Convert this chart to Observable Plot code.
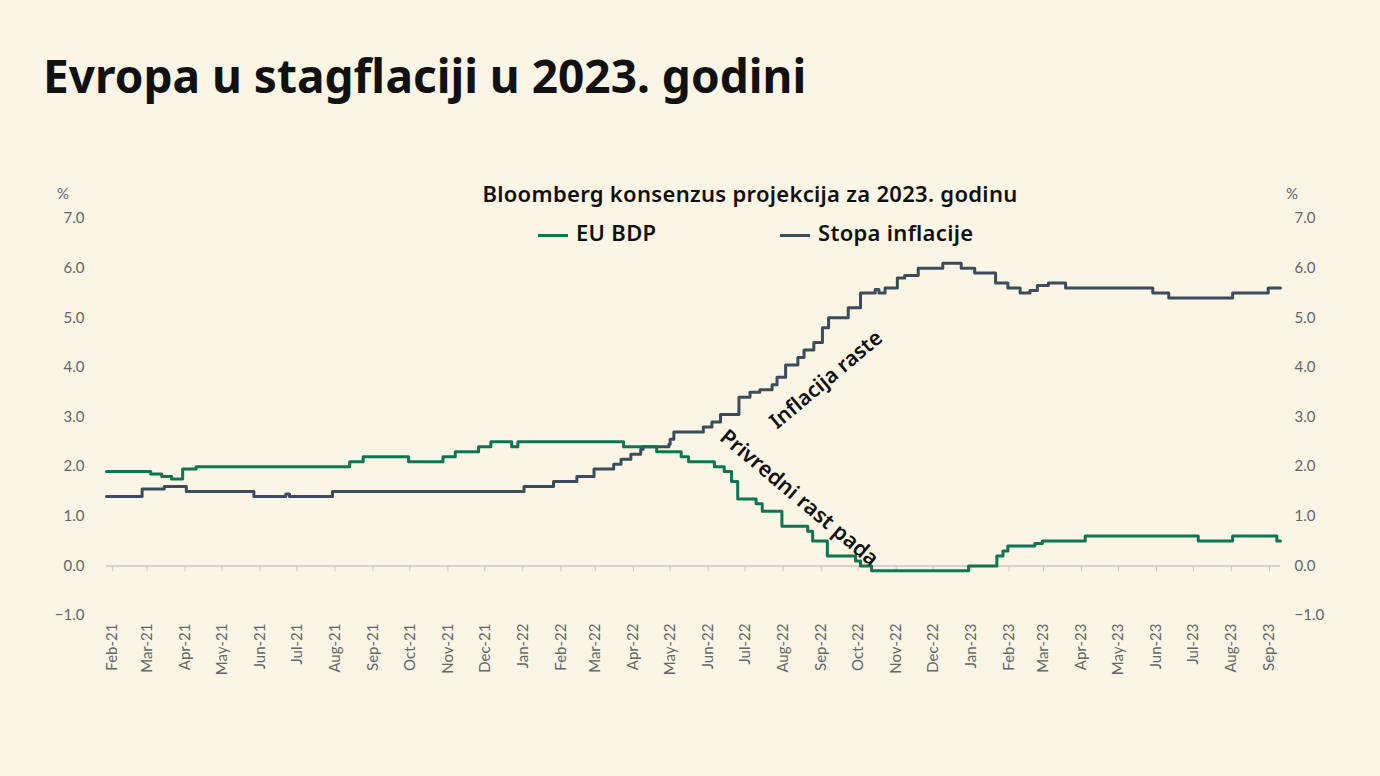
<!DOCTYPE html>
<html>
<head>
<meta charset="utf-8">
<script src="https://cdn.jsdelivr.net/npm/d3@7"></script>
<script src="https://cdn.jsdelivr.net/npm/@observablehq/plot@0.6"></script>
<style>
  body { margin: 0; background: #faf5e4; font-family: "Noto Sans", Lato, sans-serif; }
  #wrap { position: relative; width: 1380px; height: 776px; }
  .t { position: absolute; color: #111; white-space: nowrap; }
  #title { left: 43px; top: 44px; font-size: 46px; font-weight: 700; }
  #sub { left: 750px; top: 178px; transform: translateX(-50%); font-size: 22px; font-weight: 600; letter-spacing: 0.3px; }
  .leg { top: 217px; font-size: 22px; font-weight: 600; letter-spacing: 0.3px; }
  .sw { display: inline-block; width: 30px; height: 3px; vertical-align: middle; margin-right: 8px; }
  .pct { top: 184px; font-size: 15px; color: #666; font-family: Lato, sans-serif; }
  #chart { position: absolute; left: 0; top: 0; }
</style>
</head>
<body>
<div id="wrap">
  <div id="chart"></div>
  <div class="t" id="title">Evropa u stagflaciji u 2023. godini</div>
  <div class="t" id="sub">Bloomberg konsenzus projekcija za 2023. godinu</div>
  <div class="t leg" style="left:538px"><span class="sw" style="background:#0e7553"></span>EU BDP</div>
  <div class="t leg" style="left:780px"><span class="sw" style="background:#3b4d5c"></span>Stopa inflacije</div>
  <div class="t pct" style="left:57px">%</div>
  <div class="t pct" style="left:1286px">%</div>
</div>
<script>
// EU BDP projection steps (date, value)
const gdpDates = ["2021-01-27","2021-03-04","2021-03-13","2021-03-21","2021-03-30","2021-04-10","2021-08-13","2021-08-24","2021-09-30","2021-10-28","2021-11-07","2021-11-26","2021-12-06","2021-12-23","2021-12-28","2022-03-24","2022-04-20","2022-05-10","2022-05-16","2022-06-06","2022-06-14","2022-06-20","2022-06-25","2022-07-10","2022-07-15","2022-07-31","2022-08-21","2022-08-25","2022-09-06","2022-09-29","2022-10-03","2022-10-12","2022-12-30","2023-01-22","2023-01-27","2023-01-31","2023-02-22","2023-02-28","2023-04-04","2023-07-05","2023-08-02","2023-09-07","2023-09-10"];
const gdpValues = [1.9,1.85,1.8,1.75,1.95,2.0,2.1,2.2,2.1,2.2,2.3,2.4,2.5,2.4,2.5,2.4,2.3,2.2,2.1,2.0,1.9,1.7,1.35,1.25,1.1,0.8,0.7,0.5,0.2,0.1,0.0,-0.1,0.0,0.2,0.3,0.4,0.45,0.5,0.6,0.5,0.6,0.5,0.5];

// Inflation projection steps (date, value)
const infDates = ["2021-01-27","2021-02-25","2021-03-15","2021-04-02","2021-05-27","2021-06-22","2021-06-25","2021-07-30","2022-01-02","2022-01-26","2022-02-14","2022-02-28","2022-03-16","2022-03-22","2022-03-30","2022-04-07","2022-04-09","2022-04-30","2022-05-01","2022-05-04","2022-05-28","2022-06-04","2022-06-11","2022-06-26","2022-07-05","2022-07-13","2022-07-23","2022-07-27","2022-08-03","2022-08-13","2022-08-18","2022-08-26","2022-09-02","2022-09-07","2022-09-23","2022-10-03","2022-10-15","2022-10-18","2022-10-23","2022-11-02","2022-11-08","2022-11-19","2022-12-09","2022-12-24","2023-01-04","2023-01-21","2023-01-31","2023-02-10","2023-02-18","2023-02-24","2023-03-05","2023-03-19","2023-05-29","2023-06-11","2023-08-02","2023-08-31","2023-09-10"];
const infValues = [1.4,1.55,1.6,1.5,1.4,1.45,1.4,1.5,1.6,1.7,1.8,1.95,2.05,2.15,2.25,2.35,2.4,2.45,2.55,2.7,2.8,2.9,3.05,3.4,3.5,3.55,3.65,3.8,4.05,4.2,4.35,4.5,4.8,5.0,5.2,5.5,5.57,5.5,5.6,5.8,5.85,6.0,6.1,6.0,5.9,5.7,5.6,5.5,5.55,5.65,5.7,5.6,5.5,5.4,5.5,5.6,5.6];

const yTicks = [-1,0,1,2,3,4,5,6,7];
const monthTicks = d3.timeMonth.range(new Date(2021,1,1), new Date(2023,8,2));

const parse = d3.utcParse("%Y-%m-%d");
const gdp = gdpDates.map((d, i) => ({date: parse(d), v: gdpValues[i]}));
const inf = infDates.map((d, i) => ({date: parse(d), v: infValues[i]}));
const months = monthTicks.map(d => new Date(Date.UTC(d.getFullYear(), d.getMonth(), 1)));

const fmtMonth = d3.utcFormat("%b-%y");
const font = "Lato, 'Open Sans', sans-serif";

const chart = Plot.plot({
  width: 1380,
  height: 776,
  marginLeft: 106,
  marginRight: 100,
  marginTop: 218,
  marginBottom: 161,
  style: {background: "transparent", fontFamily: font},
  x: {type: "utc", domain: [parse("2021-01-27"), parse("2023-09-10")]},
  y: {domain: [-1, 7]},
  marks: [
    Plot.axisY({ticks: yTicks, tickFormat: d3.format(".1f"), tickSize: 0, tickPadding: 22, fontSize: 15, color: "#666", label: null, anchor: "left"}),
    Plot.axisY({ticks: yTicks, tickFormat: d3.format(".1f"), tickSize: 0, tickPadding: 14, fontSize: 15, color: "#666", label: null, anchor: "right"}),
    Plot.axisX({ticks: months, tickFormat: fmtMonth, tickSize: 0, tickRotate: -90, tickPadding: 8, fontSize: 15, color: "#666", label: null}),
    Plot.ruleY([0], {stroke: "#c8c8c8", strokeWidth: 1.5}),
    Plot.ruleX(months, {x: d => d, y1: 0, y2: -0.12, stroke: "#c8c8c8"}),
    Plot.line(inf, {x: "date", y: "v", curve: "step-after", stroke: "#3b4d5c", strokeWidth: 3}),
    Plot.line(gdp, {x: "date", y: "v", curve: "step-after", stroke: "#0e7553", strokeWidth: 3}),
    Plot.text(["Inflacija raste"], {x: () => parse("2022-09-05"), y: 3.75, text: d => d, rotate: -40, fontSize: 21, fontWeight: 600, fontFamily: "Noto Sans", fill: "#111"}),
    Plot.text(["Privredni rast pada"], {x: () => parse("2022-08-14"), y: 1.37, text: d => d, rotate: 40, fontSize: 21.5, fontWeight: 600, fontFamily: "Noto Sans", fill: "#111"})
  ]
});
d3.select("#chart").append(() => chart);
</script>
</body>
</html>
